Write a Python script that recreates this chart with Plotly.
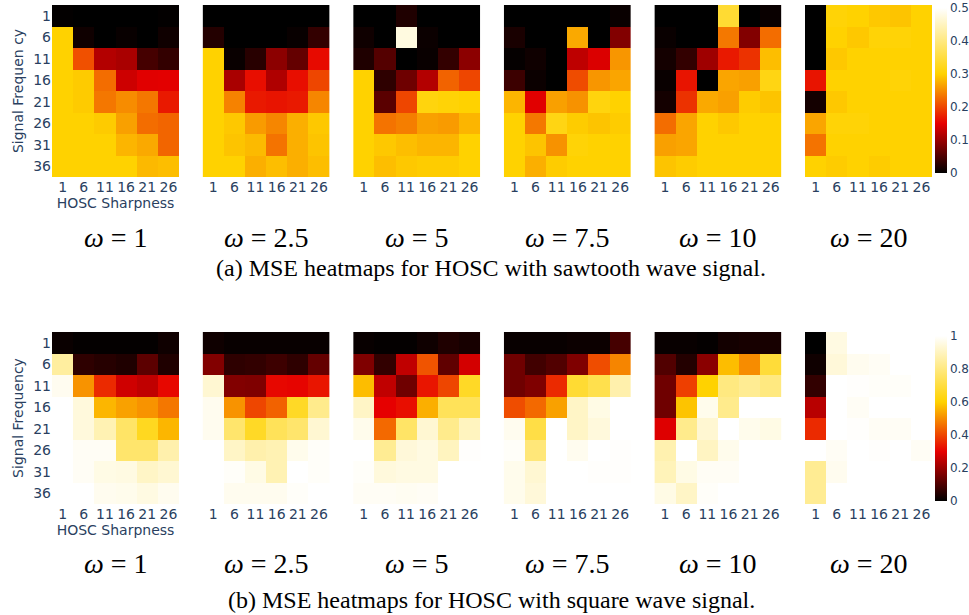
import plotly.graph_objects as go

# Axes of every heatmap
sharpness = [1, 6, 11, 16, 21, 26]          # HOSC sharpness (columns)
frequency = [1, 6, 11, 16, 21, 26, 31, 36]  # signal frequency (rows)
omegas = ["1", "2.5", "5", "7.5", "10", "20"]

# MSE, sawtooth wave signal (rows = frequency, cols = sharpness)
saw_w1 = [
    [0.002, 0.0, 0.0, 0.0, 0.0, 0.002],
    [0.300, 0.010, 0.0, 0.005, 0.0, 0.010],
    [0.300, 0.207, 0.117, 0.110, 0.045, 0.033],
    [0.300, 0.295, 0.228, 0.134, 0.147, 0.148],
    [0.300, 0.295, 0.235, 0.250, 0.235, 0.168],
    [0.300, 0.300, 0.295, 0.264, 0.228, 0.222],
    [0.300, 0.300, 0.300, 0.279, 0.271, 0.222],
    [0.300, 0.300, 0.300, 0.300, 0.282, 0.286],
]
saw_w2_5 = [
    [0.0, 0.0, 0.0, 0.0, 0.0, 0.0],
    [0.023, 0.0, 0.0, 0.0, 0.005, 0.033],
    [0.300, 0.006, 0.026, 0.091, 0.065, 0.157],
    [0.300, 0.110, 0.160, 0.114, 0.160, 0.200],
    [0.300, 0.243, 0.168, 0.164, 0.168, 0.246],
    [0.300, 0.293, 0.261, 0.246, 0.275, 0.293],
    [0.300, 0.290, 0.283, 0.232, 0.275, 0.290],
    [0.300, 0.300, 0.275, 0.286, 0.275, 0.286],
]
saw_w5 = [
    [0.0, 0.0, 0.020, 0.0, 0.0, 0.0],
    [0.010, 0.0, 0.476, 0.007, 0.0, 0.0],
    [0.020, 0.055, 0.0, 0.006, 0.033, 0.091],
    [0.300, 0.030, 0.072, 0.117, 0.221, 0.200],
    [0.300, 0.059, 0.200, 0.310, 0.305, 0.300],
    [0.300, 0.232, 0.240, 0.264, 0.261, 0.279],
    [0.300, 0.293, 0.286, 0.279, 0.279, 0.300],
    [0.300, 0.286, 0.293, 0.296, 0.296, 0.300],
]
saw_w7_5 = [
    [0.0, 0.0, 0.0, 0.0, 0.0, 0.006],
    [0.016, 0.0, 0.0, 0.271, 0.0, 0.085],
    [0.003, 0.010, 0.0, 0.124, 0.143, 0.257],
    [0.039, 0.007, 0.0, 0.204, 0.257, 0.268],
    [0.279, 0.147, 0.264, 0.254, 0.310, 0.300],
    [0.300, 0.236, 0.315, 0.296, 0.290, 0.296],
    [0.300, 0.290, 0.254, 0.305, 0.300, 0.300],
    [0.300, 0.275, 0.296, 0.300, 0.300, 0.300],
]
saw_w10 = [
    [0.0, 0.0, 0.0, 0.340, 0.0, 0.006],
    [0.006, 0.0, 0.0, 0.236, 0.085, 0.228],
    [0.013, 0.033, 0.104, 0.168, 0.186, 0.286],
    [0.006, 0.164, 0.0, 0.268, 0.264, 0.315],
    [0.013, 0.186, 0.271, 0.264, 0.296, 0.290],
    [0.228, 0.268, 0.300, 0.293, 0.300, 0.300],
    [0.264, 0.268, 0.300, 0.300, 0.300, 0.300],
    [0.290, 0.296, 0.300, 0.300, 0.300, 0.300],
]
saw_w20 = [
    [0.0, 0.305, 0.300, 0.293, 0.290, 0.300],
    [0.0, 0.300, 0.293, 0.305, 0.305, 0.300],
    [0.0, 0.293, 0.300, 0.300, 0.300, 0.300],
    [0.164, 0.300, 0.300, 0.300, 0.305, 0.300],
    [0.013, 0.293, 0.300, 0.300, 0.300, 0.300],
    [0.268, 0.305, 0.305, 0.300, 0.300, 0.300],
    [0.232, 0.300, 0.300, 0.300, 0.300, 0.300],
    [0.300, 0.296, 0.300, 0.296, 0.300, 0.300],
]

# MSE, square wave signal
sq_w1 = [
    [0.013, 0.005, 0.005, 0.005, 0.005, 0.020],
    [0.850, 0.060, 0.050, 0.040, 0.120, 0.040],
    [0.976, 0.510, 0.360, 0.270, 0.250, 0.310],
    [1.000, 0.945, 0.560, 0.530, 0.510, 0.470],
    [1.000, 0.945, 0.880, 0.760, 0.650, 0.560],
    [1.000, 0.985, 0.985, 0.770, 0.770, 0.870],
    [1.000, 0.985, 0.960, 0.955, 0.910, 0.930],
    [1.000, 1.000, 0.975, 0.970, 0.955, 0.975],
]
sq_w2_5 = [
    [0.020, 0.010, 0.010, 0.010, 0.010, 0.010],
    [0.170, 0.060, 0.065, 0.080, 0.060, 0.130],
    [0.930, 0.170, 0.165, 0.310, 0.305, 0.330],
    [0.975, 0.510, 0.400, 0.440, 0.660, 0.820],
    [0.975, 0.770, 0.660, 0.740, 0.770, 0.930],
    [1.000, 0.910, 0.870, 0.880, 0.970, 0.990],
    [1.000, 0.990, 0.960, 0.880, 1.000, 0.990],
    [1.000, 0.975, 0.975, 0.975, 0.990, 1.000],
]
sq_w5 = [
    [0.010, 0.005, 0.005, 0.020, 0.040, 0.030],
    [0.165, 0.065, 0.250, 0.420, 0.125, 0.275],
    [0.570, 0.250, 0.145, 0.330, 0.400, 0.660],
    [0.910, 0.300, 0.320, 0.550, 0.740, 0.740],
    [0.970, 0.450, 0.760, 0.930, 0.820, 0.900],
    [1.000, 0.830, 0.940, 0.955, 0.900, 0.995],
    [0.990, 0.945, 0.955, 0.955, 1.000, 1.000],
    [0.985, 0.985, 0.980, 0.985, 1.000, 1.000],
]
sq_w7_5 = [
    [0.010, 0.010, 0.010, 0.015, 0.015, 0.090],
    [0.145, 0.085, 0.105, 0.165, 0.410, 0.490],
    [0.145, 0.165, 0.360, 0.680, 0.720, 0.870],
    [0.410, 0.450, 0.530, 0.910, 0.960, 1.000],
    [0.975, 0.710, 1.000, 0.910, 0.945, 1.000],
    [0.990, 0.790, 1.000, 0.975, 1.000, 0.995],
    [0.970, 0.930, 1.000, 1.000, 0.995, 0.995],
    [0.970, 0.940, 1.000, 1.000, 1.000, 1.000],
]
sq_w10 = [
    [0.010, 0.010, 0.005, 0.025, 0.030, 0.030],
    [0.105, 0.045, 0.180, 0.570, 0.500, 0.690],
    [0.145, 0.390, 0.600, 0.800, 0.830, 0.800],
    [0.145, 0.580, 0.970, 0.820, 1.000, 1.000],
    [0.290, 0.820, 0.930, 1.000, 0.970, 0.960],
    [0.875, 1.000, 0.905, 0.970, 1.000, 1.000],
    [0.890, 0.960, 0.985, 0.985, 1.000, 1.000],
    [0.960, 0.910, 0.990, 1.000, 1.000, 1.000],
]
sq_w20 = [
    [0.000, 0.955, 1.000, 1.000, 1.000, 1.000],
    [0.020, 0.940, 0.975, 0.985, 1.000, 1.000],
    [0.065, 1.000, 0.995, 0.990, 0.990, 1.000],
    [0.240, 1.000, 0.985, 1.000, 1.000, 1.000],
    [0.360, 1.000, 0.995, 0.985, 0.985, 1.000],
    [1.000, 0.985, 1.000, 0.995, 1.000, 0.985],
    [0.830, 0.975, 1.000, 1.000, 1.000, 1.000],
    [0.830, 1.000, 1.000, 1.000, 1.000, 1.000],
]

sawtooth = [saw_w1, saw_w2_5, saw_w5, saw_w7_5, saw_w10, saw_w20]
square = [sq_w1, sq_w2_5, sq_w5, sq_w7_5, sq_w10, sq_w20]

# black -> red -> yellow -> white ("hot" as defined in plotly.js)
HOT = [[0.0, "rgb(0,0,0)"], [0.3, "rgb(230,0,0)"],
       [0.6, "rgb(255,210,0)"], [1.0, "rgb(255,255,255)"]]

W, H = 969, 615
AXIS_FONT = dict(family="DejaVu Sans", size=14, color="#2a3f5f")
CBAR_FONT = dict(family="DejaVu Sans", size=12, color="#2a3f5f")
SERIF = "Liberation Serif"

col_left = [52 + 150.6 * i for i in range(6)]
col_width = 127
rows_px = [(5, 177), (332, 504)]  # top/bottom pixel edges of each panel row

fig = go.Figure()
layout = {}

for r, (panels, cax, ytitle) in enumerate([
    (sawtooth, "coloraxis", "Signal Frequen cy"),
    (square, "coloraxis2", "Signal Frequency"),
]):
    top_px, bot_px = rows_px[r]
    for c, z in enumerate(panels):
        k = r * 6 + c + 1
        suffix = "" if k == 1 else str(k)
        fig.add_trace(go.Heatmap(
            x=sharpness, y=frequency, z=z, coloraxis=cax,
            xaxis="x" + suffix, yaxis="y" + suffix,
        ))
        x0 = col_left[c] / W
        x1 = (col_left[c] + col_width) / W
        first = c == 0
        layout["xaxis" + suffix] = dict(
            domain=[x0, x1], anchor="y" + suffix,
            tickvals=sharpness, ticktext=[str(v) for v in sharpness],
            tickfont=AXIS_FONT, showgrid=False, zeroline=False, ticks="",
            title=dict(text="HOSC Sharpness" if first else "",
                       font=AXIS_FONT, standoff=4),
            fixedrange=True,
        )
        layout["yaxis" + suffix] = dict(
            domain=[1 - bot_px / H, 1 - top_px / H], anchor="x" + suffix,
            tickvals=frequency, ticktext=[str(v) for v in frequency],
            showticklabels=first, tickfont=AXIS_FONT,
            autorange="reversed", showgrid=False, zeroline=False, ticks="",
            title=dict(text=ytitle if first else "", font=AXIS_FONT,
                       standoff=6),
            fixedrange=True,
        )

colorbar_common = dict(
    thickness=12, thicknessmode="pixels", lenmode="fraction",
    x=935 / W, xanchor="left", yanchor="top", xpad=0, ypad=0,
    outlinewidth=0, ticks="", tickfont=CBAR_FONT, tickmode="linear", tick0=0,
)
layout["coloraxis"] = dict(
    colorscale=HOT, cmin=0, cmax=0.5,
    colorbar=dict(colorbar_common, y=1 - 8 / H, len=165 / H, dtick=0.1),
)
layout["coloraxis2"] = dict(
    colorscale=HOT, cmin=0, cmax=1,
    colorbar=dict(colorbar_common, y=1 - 336 / H, len=165 / H, dtick=0.2),
)

annotations = []
for r, (lab_y, cap_y, caption) in enumerate([
    (237, 268, "(a) MSE heatmaps for HOSC with sawtooth wave signal."),
    (563, 600, "(b) MSE heatmaps for HOSC with square wave signal."),
]):
    for c, om in enumerate(omegas):
        annotations.append(dict(
            text=f"<i>ω</i>\u2005=\u2005{om}",
            x=(col_left[c] + col_width / 2) / W,
            y=1 - lab_y / H, xref="paper", yref="paper",
            xanchor="center", yanchor="middle", showarrow=False,
            font=dict(family=SERIF, size=28, color="black"),
        ))
    annotations.append(dict(
        text=caption, x=491 / W, y=1 - cap_y / H, xref="paper", yref="paper",
        xanchor="center", yanchor="middle", showarrow=False,
        font=dict(family=SERIF, size=24, color="black"),
    ))

fig.update_layout(
    width=W, height=H, margin=dict(l=0, r=0, t=0, b=0),
    paper_bgcolor="white", plot_bgcolor="white",
    annotations=annotations, **layout,
)

fig.write_html("out.html")
